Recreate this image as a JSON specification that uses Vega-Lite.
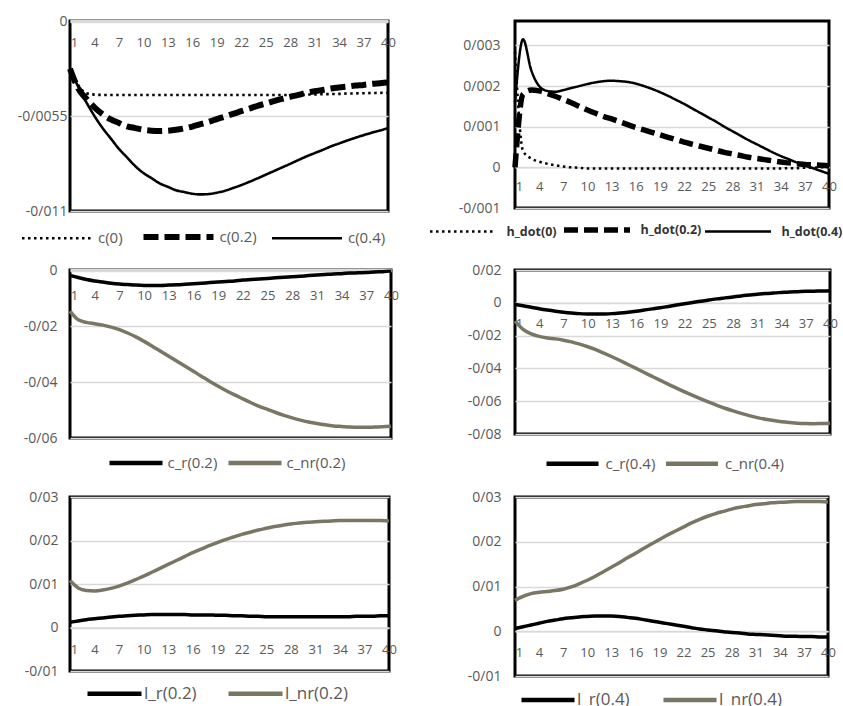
{
  "$schema": "https://vega.github.io/schema/vega-lite/v6.json",
  "padding": {"left": 15, "top": 12, "right": 0, "bottom": 0},
  "background": "white",
  "config": {
    "font": "Open Sans",
    "view": {"stroke": "black", "strokeWidth": 3},
    "axis": {"labelFont": "Open Sans", "labelFontSize": 13, "labelColor": "#595959", "ticks": false, "tickSize": 0, "gridColor": "#d9d9d9", "gridWidth": 1.5},
    "axisX": {"grid": false, "domain": true, "domainColor": "#d9d9d9", "domainWidth": 1.5, "labelBaseline": "middle", "labelFlush": false, "labelOverlap": false, "labelBound": false,
              "labelOffset": {"condition": {"test": "datum.value == 1", "value": 4}, "value": 0}},
    "axisY": {"grid": true, "domain": false, "labelBaseline": "middle", "labelFontSize": 14},
    "legend": {"orient": "none", "direction": "horizontal", "padding": 0, "labelFont": "Open Sans", "labelFontSize": 15, "labelColor": "#595959", "symbolType": "stroke", "rowPadding": 0},
    "line": {"interpolate": "monotone"}
  },
  "resolve": {"scale": {"color": "independent", "strokeDash": "independent", "strokeWidth": "independent"}, "legend": {"color": "independent", "strokeDash": "independent", "strokeWidth": "independent"}},
  "bounds": "flush",
  "columns": 2,
  "spacing": {"row": 59, "column": 124},
  "datasets": {
    "consumption": [
      {"s":"c(0)","t":1,"v":-0.00276},{"s":"c(0)","t":2,"v":-0.0037},{"s":"c(0)","t":3,"v":-0.00418},{"s":"c(0)","t":4,"v":-0.00426},{"s":"c(0)","t":5,"v":-0.00428},{"s":"c(0)","t":6,"v":-0.00428},{"s":"c(0)","t":7,"v":-0.00428},{"s":"c(0)","t":8,"v":-0.00428},{"s":"c(0)","t":9,"v":-0.00428},{"s":"c(0)","t":10,"v":-0.00428},
      {"s":"c(0)","t":11,"v":-0.00428},{"s":"c(0)","t":12,"v":-0.00428},{"s":"c(0)","t":13,"v":-0.00428},{"s":"c(0)","t":14,"v":-0.00428},{"s":"c(0)","t":15,"v":-0.00428},{"s":"c(0)","t":16,"v":-0.00428},{"s":"c(0)","t":17,"v":-0.00428},{"s":"c(0)","t":18,"v":-0.00428},{"s":"c(0)","t":19,"v":-0.00428},{"s":"c(0)","t":20,"v":-0.00428},
      {"s":"c(0)","t":21,"v":-0.00428},{"s":"c(0)","t":22,"v":-0.00428},{"s":"c(0)","t":23,"v":-0.00428},{"s":"c(0)","t":24,"v":-0.00428},{"s":"c(0)","t":25,"v":-0.00428},{"s":"c(0)","t":26,"v":-0.00428},{"s":"c(0)","t":27,"v":-0.00428},{"s":"c(0)","t":28,"v":-0.00428},{"s":"c(0)","t":29,"v":-0.00427},{"s":"c(0)","t":30,"v":-0.00426},
      {"s":"c(0)","t":31,"v":-0.00425},{"s":"c(0)","t":32,"v":-0.00424},{"s":"c(0)","t":33,"v":-0.00423},{"s":"c(0)","t":34,"v":-0.00422},{"s":"c(0)","t":35,"v":-0.0042},{"s":"c(0)","t":36,"v":-0.00419},{"s":"c(0)","t":37,"v":-0.00418},{"s":"c(0)","t":38,"v":-0.00417},{"s":"c(0)","t":39,"v":-0.00416},{"s":"c(0)","t":40,"v":-0.00415},
      {"s":"c(0.2)","t":1,"v":-0.00276},{"s":"c(0.2)","t":2,"v":-0.0039},{"s":"c(0.2)","t":3,"v":-0.0045},{"s":"c(0.2)","t":4,"v":-0.005},{"s":"c(0.2)","t":5,"v":-0.0054},{"s":"c(0.2)","t":6,"v":-0.0057},{"s":"c(0.2)","t":7,"v":-0.0059},{"s":"c(0.2)","t":8,"v":-0.0061},{"s":"c(0.2)","t":9,"v":-0.0062},{"s":"c(0.2)","t":10,"v":-0.0063},
      {"s":"c(0.2)","t":11,"v":-0.00635},{"s":"c(0.2)","t":12,"v":-0.00637},{"s":"c(0.2)","t":13,"v":-0.00635},{"s":"c(0.2)","t":14,"v":-0.0063},{"s":"c(0.2)","t":15,"v":-0.00622},{"s":"c(0.2)","t":16,"v":-0.00611},{"s":"c(0.2)","t":17,"v":-0.00597},{"s":"c(0.2)","t":18,"v":-0.00584},{"s":"c(0.2)","t":19,"v":-0.00568},{"s":"c(0.2)","t":20,"v":-0.00553},
      {"s":"c(0.2)","t":21,"v":-0.00538},{"s":"c(0.2)","t":22,"v":-0.00522},{"s":"c(0.2)","t":23,"v":-0.00507},{"s":"c(0.2)","t":24,"v":-0.00491},{"s":"c(0.2)","t":25,"v":-0.00478},{"s":"c(0.2)","t":26,"v":-0.00464},{"s":"c(0.2)","t":27,"v":-0.00451},{"s":"c(0.2)","t":28,"v":-0.00439},{"s":"c(0.2)","t":29,"v":-0.00428},{"s":"c(0.2)","t":30,"v":-0.00416},
      {"s":"c(0.2)","t":31,"v":-0.00407},{"s":"c(0.2)","t":32,"v":-0.00399},{"s":"c(0.2)","t":33,"v":-0.00391},{"s":"c(0.2)","t":34,"v":-0.00385},{"s":"c(0.2)","t":35,"v":-0.0038},{"s":"c(0.2)","t":36,"v":-0.00374},{"s":"c(0.2)","t":37,"v":-0.0037},{"s":"c(0.2)","t":38,"v":-0.00364},{"s":"c(0.2)","t":39,"v":-0.0036},{"s":"c(0.2)","t":40,"v":-0.00356},
      {"s":"c(0.4)","t":1,"v":-0.00276},{"s":"c(0.4)","t":2,"v":-0.0038},{"s":"c(0.4)","t":3,"v":-0.0047},{"s":"c(0.4)","t":4,"v":-0.0055},{"s":"c(0.4)","t":5,"v":-0.0062},{"s":"c(0.4)","t":6,"v":-0.0068},{"s":"c(0.4)","t":7,"v":-0.0074},{"s":"c(0.4)","t":8,"v":-0.0079},{"s":"c(0.4)","t":9,"v":-0.0084},{"s":"c(0.4)","t":10,"v":-0.0088},
      {"s":"c(0.4)","t":11,"v":-0.0091},{"s":"c(0.4)","t":12,"v":-0.0094},{"s":"c(0.4)","t":13,"v":-0.0096},{"s":"c(0.4)","t":14,"v":-0.0098},{"s":"c(0.4)","t":15,"v":-0.0099},{"s":"c(0.4)","t":16,"v":-0.01},{"s":"c(0.4)","t":17,"v":-0.01004},{"s":"c(0.4)","t":18,"v":-0.01002},{"s":"c(0.4)","t":19,"v":-0.00994},{"s":"c(0.4)","t":20,"v":-0.00983},
      {"s":"c(0.4)","t":21,"v":-0.00967},{"s":"c(0.4)","t":22,"v":-0.0095},{"s":"c(0.4)","t":23,"v":-0.00931},{"s":"c(0.4)","t":24,"v":-0.00911},{"s":"c(0.4)","t":25,"v":-0.0089},{"s":"c(0.4)","t":26,"v":-0.00869},{"s":"c(0.4)","t":27,"v":-0.00848},{"s":"c(0.4)","t":28,"v":-0.00827},{"s":"c(0.4)","t":29,"v":-0.00805},{"s":"c(0.4)","t":30,"v":-0.00784},
      {"s":"c(0.4)","t":31,"v":-0.00765},{"s":"c(0.4)","t":32,"v":-0.00746},{"s":"c(0.4)","t":33,"v":-0.00726},{"s":"c(0.4)","t":34,"v":-0.00709},{"s":"c(0.4)","t":35,"v":-0.00692},{"s":"c(0.4)","t":36,"v":-0.00676},{"s":"c(0.4)","t":37,"v":-0.00661},{"s":"c(0.4)","t":38,"v":-0.00647},{"s":"c(0.4)","t":39,"v":-0.00634},{"s":"c(0.4)","t":40,"v":-0.0062}
    ],
    "hours": [
      {"s":"h_dot(0)","t":1,"v":0.00285},{"s":"h_dot(0)","t":2,"v":0.0004},{"s":"h_dot(0)","t":3,"v":0.00022},{"s":"h_dot(0)","t":4,"v":0.00014},{"s":"h_dot(0)","t":5,"v":0.00009},{"s":"h_dot(0)","t":6,"v":0.00005},{"s":"h_dot(0)","t":7,"v":0.00002},{"s":"h_dot(0)","t":8,"v":0},{"s":"h_dot(0)","t":9,"v":-0.00001},{"s":"h_dot(0)","t":10,"v":-0.00003},
      {"s":"h_dot(0)","t":11,"v":-0.00003},{"s":"h_dot(0)","t":12,"v":-0.00003},{"s":"h_dot(0)","t":13,"v":-0.00003},{"s":"h_dot(0)","t":14,"v":-0.00003},{"s":"h_dot(0)","t":15,"v":-0.00003},{"s":"h_dot(0)","t":16,"v":-0.00003},{"s":"h_dot(0)","t":17,"v":-0.00003},{"s":"h_dot(0)","t":18,"v":-0.00003},{"s":"h_dot(0)","t":19,"v":-0.00003},{"s":"h_dot(0)","t":20,"v":-0.00003},
      {"s":"h_dot(0)","t":21,"v":-0.00003},{"s":"h_dot(0)","t":22,"v":-0.00003},{"s":"h_dot(0)","t":23,"v":-0.00003},{"s":"h_dot(0)","t":24,"v":-0.00003},{"s":"h_dot(0)","t":25,"v":-0.00003},{"s":"h_dot(0)","t":26,"v":-0.00003},{"s":"h_dot(0)","t":27,"v":-0.00003},{"s":"h_dot(0)","t":28,"v":-0.00003},{"s":"h_dot(0)","t":29,"v":-0.00003},{"s":"h_dot(0)","t":30,"v":-0.00003},
      {"s":"h_dot(0)","t":31,"v":-0.00003},{"s":"h_dot(0)","t":32,"v":-0.00003},{"s":"h_dot(0)","t":33,"v":-0.00003},{"s":"h_dot(0)","t":34,"v":-0.00003},{"s":"h_dot(0)","t":35,"v":-0.00002},{"s":"h_dot(0)","t":36,"v":-0.00002},{"s":"h_dot(0)","t":37,"v":-0.00001},{"s":"h_dot(0)","t":38,"v":-0.00001},{"s":"h_dot(0)","t":39,"v":0},{"s":"h_dot(0)","t":40,"v":0},
      {"s":"h_dot(0.2)","t":1,"v":0},{"s":"h_dot(0.2)","t":2,"v":0.0018},{"s":"h_dot(0.2)","t":3,"v":0.0019},{"s":"h_dot(0.2)","t":4,"v":0.00188},{"s":"h_dot(0.2)","t":5,"v":0.00182},{"s":"h_dot(0.2)","t":6,"v":0.00175},{"s":"h_dot(0.2)","t":7,"v":0.00167},{"s":"h_dot(0.2)","t":8,"v":0.00159},{"s":"h_dot(0.2)","t":9,"v":0.0015},{"s":"h_dot(0.2)","t":10,"v":0.00141},
      {"s":"h_dot(0.2)","t":11,"v":0.00133},{"s":"h_dot(0.2)","t":12,"v":0.00125},{"s":"h_dot(0.2)","t":13,"v":0.00119},{"s":"h_dot(0.2)","t":14,"v":0.00112},{"s":"h_dot(0.2)","t":15,"v":0.00105},{"s":"h_dot(0.2)","t":16,"v":0.00098},{"s":"h_dot(0.2)","t":17,"v":0.00092},{"s":"h_dot(0.2)","t":18,"v":0.00086},{"s":"h_dot(0.2)","t":19,"v":0.0008},{"s":"h_dot(0.2)","t":20,"v":0.00074},
      {"s":"h_dot(0.2)","t":21,"v":0.00068},{"s":"h_dot(0.2)","t":22,"v":0.00062},{"s":"h_dot(0.2)","t":23,"v":0.00057},{"s":"h_dot(0.2)","t":24,"v":0.00052},{"s":"h_dot(0.2)","t":25,"v":0.00047},{"s":"h_dot(0.2)","t":26,"v":0.00042},{"s":"h_dot(0.2)","t":27,"v":0.00037},{"s":"h_dot(0.2)","t":28,"v":0.00033},{"s":"h_dot(0.2)","t":29,"v":0.00029},{"s":"h_dot(0.2)","t":30,"v":0.00025},
      {"s":"h_dot(0.2)","t":31,"v":0.00022},{"s":"h_dot(0.2)","t":32,"v":0.00019},{"s":"h_dot(0.2)","t":33,"v":0.00016},{"s":"h_dot(0.2)","t":34,"v":0.00013},{"s":"h_dot(0.2)","t":35,"v":0.00011},{"s":"h_dot(0.2)","t":36,"v":0.00009},{"s":"h_dot(0.2)","t":37,"v":0.00007},{"s":"h_dot(0.2)","t":38,"v":0.00006},{"s":"h_dot(0.2)","t":39,"v":0.00005},{"s":"h_dot(0.2)","t":40,"v":0.00004},
      {"s":"h_dot(0.4)","t":1,"v":0.0016},{"s":"h_dot(0.4)","t":2,"v":0.00315},{"s":"h_dot(0.4)","t":3,"v":0.0024},{"s":"h_dot(0.4)","t":4,"v":0.002},{"s":"h_dot(0.4)","t":5,"v":0.00188},{"s":"h_dot(0.4)","t":6,"v":0.00186},{"s":"h_dot(0.4)","t":7,"v":0.0019},{"s":"h_dot(0.4)","t":8,"v":0.00195},{"s":"h_dot(0.4)","t":9,"v":0.002},{"s":"h_dot(0.4)","t":10,"v":0.00205},
      {"s":"h_dot(0.4)","t":11,"v":0.00209},{"s":"h_dot(0.4)","t":12,"v":0.00212},{"s":"h_dot(0.4)","t":13,"v":0.00213},{"s":"h_dot(0.4)","t":14,"v":0.00212},{"s":"h_dot(0.4)","t":15,"v":0.0021},{"s":"h_dot(0.4)","t":16,"v":0.00206},{"s":"h_dot(0.4)","t":17,"v":0.002},{"s":"h_dot(0.4)","t":18,"v":0.00193},{"s":"h_dot(0.4)","t":19,"v":0.00185},{"s":"h_dot(0.4)","t":20,"v":0.00176},
      {"s":"h_dot(0.4)","t":21,"v":0.00166},{"s":"h_dot(0.4)","t":22,"v":0.00156},{"s":"h_dot(0.4)","t":23,"v":0.00145},{"s":"h_dot(0.4)","t":24,"v":0.00134},{"s":"h_dot(0.4)","t":25,"v":0.00123},{"s":"h_dot(0.4)","t":26,"v":0.00112},{"s":"h_dot(0.4)","t":27,"v":0.001},{"s":"h_dot(0.4)","t":28,"v":0.00089},{"s":"h_dot(0.4)","t":29,"v":0.00078},{"s":"h_dot(0.4)","t":30,"v":0.00067},
      {"s":"h_dot(0.4)","t":31,"v":0.00057},{"s":"h_dot(0.4)","t":32,"v":0.00047},{"s":"h_dot(0.4)","t":33,"v":0.00037},{"s":"h_dot(0.4)","t":34,"v":0.00028},{"s":"h_dot(0.4)","t":35,"v":0.0002},{"s":"h_dot(0.4)","t":36,"v":0.00012},{"s":"h_dot(0.4)","t":37,"v":0.00005},{"s":"h_dot(0.4)","t":38,"v":-0.00002},{"s":"h_dot(0.4)","t":39,"v":-0.00009},{"s":"h_dot(0.4)","t":40,"v":-0.00016}
    ],
    "c02": [
      {"s":"c_r(0.2)","t":1,"v":-0.0019},{"s":"c_r(0.2)","t":2,"v":-0.0027},{"s":"c_r(0.2)","t":3,"v":-0.0034},{"s":"c_r(0.2)","t":4,"v":-0.0039},{"s":"c_r(0.2)","t":5,"v":-0.0043},{"s":"c_r(0.2)","t":6,"v":-0.0047},{"s":"c_r(0.2)","t":7,"v":-0.005},{"s":"c_r(0.2)","t":8,"v":-0.0052},{"s":"c_r(0.2)","t":9,"v":-0.0054},{"s":"c_r(0.2)","t":10,"v":-0.0055},
      {"s":"c_r(0.2)","t":11,"v":-0.0055},{"s":"c_r(0.2)","t":12,"v":-0.0055},{"s":"c_r(0.2)","t":13,"v":-0.0054},{"s":"c_r(0.2)","t":14,"v":-0.0053},{"s":"c_r(0.2)","t":15,"v":-0.0051},{"s":"c_r(0.2)","t":16,"v":-0.0049},{"s":"c_r(0.2)","t":17,"v":-0.0047},{"s":"c_r(0.2)","t":18,"v":-0.0045},{"s":"c_r(0.2)","t":19,"v":-0.0043},{"s":"c_r(0.2)","t":20,"v":-0.0041},
      {"s":"c_r(0.2)","t":21,"v":-0.0039},{"s":"c_r(0.2)","t":22,"v":-0.0036},{"s":"c_r(0.2)","t":23,"v":-0.0034},{"s":"c_r(0.2)","t":24,"v":-0.0032},{"s":"c_r(0.2)","t":25,"v":-0.003},{"s":"c_r(0.2)","t":26,"v":-0.0028},{"s":"c_r(0.2)","t":27,"v":-0.0026},{"s":"c_r(0.2)","t":28,"v":-0.0024},{"s":"c_r(0.2)","t":29,"v":-0.0022},{"s":"c_r(0.2)","t":30,"v":-0.002},
      {"s":"c_r(0.2)","t":31,"v":-0.0018},{"s":"c_r(0.2)","t":32,"v":-0.0016},{"s":"c_r(0.2)","t":33,"v":-0.0014},{"s":"c_r(0.2)","t":34,"v":-0.0013},{"s":"c_r(0.2)","t":35,"v":-0.0011},{"s":"c_r(0.2)","t":36,"v":-0.001},{"s":"c_r(0.2)","t":37,"v":-0.0009},{"s":"c_r(0.2)","t":38,"v":-0.0007},{"s":"c_r(0.2)","t":39,"v":-0.0006},{"s":"c_r(0.2)","t":40,"v":-0.0004},
      {"s":"c_nr(0.2)","t":1,"v":-0.0147},{"s":"c_nr(0.2)","t":2,"v":-0.0178},{"s":"c_nr(0.2)","t":3,"v":-0.0187},{"s":"c_nr(0.2)","t":4,"v":-0.0192},{"s":"c_nr(0.2)","t":5,"v":-0.0197},{"s":"c_nr(0.2)","t":6,"v":-0.0204},{"s":"c_nr(0.2)","t":7,"v":-0.0213},{"s":"c_nr(0.2)","t":8,"v":-0.0225},{"s":"c_nr(0.2)","t":9,"v":-0.0239},{"s":"c_nr(0.2)","t":10,"v":-0.0255},
      {"s":"c_nr(0.2)","t":11,"v":-0.0272},{"s":"c_nr(0.2)","t":12,"v":-0.029},{"s":"c_nr(0.2)","t":13,"v":-0.0308},{"s":"c_nr(0.2)","t":14,"v":-0.0326},{"s":"c_nr(0.2)","t":15,"v":-0.0344},{"s":"c_nr(0.2)","t":16,"v":-0.0362},{"s":"c_nr(0.2)","t":17,"v":-0.038},{"s":"c_nr(0.2)","t":18,"v":-0.0398},{"s":"c_nr(0.2)","t":19,"v":-0.0415},{"s":"c_nr(0.2)","t":20,"v":-0.0431},
      {"s":"c_nr(0.2)","t":21,"v":-0.0446},{"s":"c_nr(0.2)","t":22,"v":-0.046},{"s":"c_nr(0.2)","t":23,"v":-0.0474},{"s":"c_nr(0.2)","t":24,"v":-0.0487},{"s":"c_nr(0.2)","t":25,"v":-0.0498},{"s":"c_nr(0.2)","t":26,"v":-0.0509},{"s":"c_nr(0.2)","t":27,"v":-0.0519},{"s":"c_nr(0.2)","t":28,"v":-0.0528},{"s":"c_nr(0.2)","t":29,"v":-0.0536},{"s":"c_nr(0.2)","t":30,"v":-0.0543},
      {"s":"c_nr(0.2)","t":31,"v":-0.0548},{"s":"c_nr(0.2)","t":32,"v":-0.0553},{"s":"c_nr(0.2)","t":33,"v":-0.0557},{"s":"c_nr(0.2)","t":34,"v":-0.0559},{"s":"c_nr(0.2)","t":35,"v":-0.0561},{"s":"c_nr(0.2)","t":36,"v":-0.0562},{"s":"c_nr(0.2)","t":37,"v":-0.0562},{"s":"c_nr(0.2)","t":38,"v":-0.0561},{"s":"c_nr(0.2)","t":39,"v":-0.056},{"s":"c_nr(0.2)","t":40,"v":-0.0558}
    ],
    "c04": [
      {"s":"c_r(0.4)","t":1,"v":-0.001},{"s":"c_r(0.4)","t":2,"v":-0.0018},{"s":"c_r(0.4)","t":3,"v":-0.0027},{"s":"c_r(0.4)","t":4,"v":-0.0036},{"s":"c_r(0.4)","t":5,"v":-0.0044},{"s":"c_r(0.4)","t":6,"v":-0.0051},{"s":"c_r(0.4)","t":7,"v":-0.0057},{"s":"c_r(0.4)","t":8,"v":-0.0062},{"s":"c_r(0.4)","t":9,"v":-0.0066},{"s":"c_r(0.4)","t":10,"v":-0.0068},
      {"s":"c_r(0.4)","t":11,"v":-0.0069},{"s":"c_r(0.4)","t":12,"v":-0.0068},{"s":"c_r(0.4)","t":13,"v":-0.0066},{"s":"c_r(0.4)","t":14,"v":-0.0062},{"s":"c_r(0.4)","t":15,"v":-0.0057},{"s":"c_r(0.4)","t":16,"v":-0.0051},{"s":"c_r(0.4)","t":17,"v":-0.0044},{"s":"c_r(0.4)","t":18,"v":-0.0037},{"s":"c_r(0.4)","t":19,"v":-0.003},{"s":"c_r(0.4)","t":20,"v":-0.0022},
      {"s":"c_r(0.4)","t":21,"v":-0.0014},{"s":"c_r(0.4)","t":22,"v":-0.0006},{"s":"c_r(0.4)","t":23,"v":0.0002},{"s":"c_r(0.4)","t":24,"v":0.001},{"s":"c_r(0.4)","t":25,"v":0.0017},{"s":"c_r(0.4)","t":26,"v":0.0024},{"s":"c_r(0.4)","t":27,"v":0.003},{"s":"c_r(0.4)","t":28,"v":0.0036},{"s":"c_r(0.4)","t":29,"v":0.0042},{"s":"c_r(0.4)","t":30,"v":0.0047},
      {"s":"c_r(0.4)","t":31,"v":0.0052},{"s":"c_r(0.4)","t":32,"v":0.0056},{"s":"c_r(0.4)","t":33,"v":0.006},{"s":"c_r(0.4)","t":34,"v":0.0063},{"s":"c_r(0.4)","t":35,"v":0.0066},{"s":"c_r(0.4)","t":36,"v":0.0068},{"s":"c_r(0.4)","t":37,"v":0.007},{"s":"c_r(0.4)","t":38,"v":0.0071},{"s":"c_r(0.4)","t":39,"v":0.0072},{"s":"c_r(0.4)","t":40,"v":0.0073},
      {"s":"c_nr(0.4)","t":1,"v":-0.0112},{"s":"c_nr(0.4)","t":2,"v":-0.0162},{"s":"c_nr(0.4)","t":3,"v":-0.019},{"s":"c_nr(0.4)","t":4,"v":-0.0205},{"s":"c_nr(0.4)","t":5,"v":-0.0214},{"s":"c_nr(0.4)","t":6,"v":-0.022},{"s":"c_nr(0.4)","t":7,"v":-0.0228},{"s":"c_nr(0.4)","t":8,"v":-0.0238},{"s":"c_nr(0.4)","t":9,"v":-0.0252},{"s":"c_nr(0.4)","t":10,"v":-0.0268},
      {"s":"c_nr(0.4)","t":11,"v":-0.0286},{"s":"c_nr(0.4)","t":12,"v":-0.0307},{"s":"c_nr(0.4)","t":13,"v":-0.0329},{"s":"c_nr(0.4)","t":14,"v":-0.0352},{"s":"c_nr(0.4)","t":15,"v":-0.0376},{"s":"c_nr(0.4)","t":16,"v":-0.04},{"s":"c_nr(0.4)","t":17,"v":-0.0425},{"s":"c_nr(0.4)","t":18,"v":-0.0449},{"s":"c_nr(0.4)","t":19,"v":-0.0473},{"s":"c_nr(0.4)","t":20,"v":-0.0497},
      {"s":"c_nr(0.4)","t":21,"v":-0.052},{"s":"c_nr(0.4)","t":22,"v":-0.0543},{"s":"c_nr(0.4)","t":23,"v":-0.0565},{"s":"c_nr(0.4)","t":24,"v":-0.0586},{"s":"c_nr(0.4)","t":25,"v":-0.0606},{"s":"c_nr(0.4)","t":26,"v":-0.0625},{"s":"c_nr(0.4)","t":27,"v":-0.0643},{"s":"c_nr(0.4)","t":28,"v":-0.0659},{"s":"c_nr(0.4)","t":29,"v":-0.0674},{"s":"c_nr(0.4)","t":30,"v":-0.0688},
      {"s":"c_nr(0.4)","t":31,"v":-0.07},{"s":"c_nr(0.4)","t":32,"v":-0.071},{"s":"c_nr(0.4)","t":33,"v":-0.0718},{"s":"c_nr(0.4)","t":34,"v":-0.0725},{"s":"c_nr(0.4)","t":35,"v":-0.073},{"s":"c_nr(0.4)","t":36,"v":-0.0734},{"s":"c_nr(0.4)","t":37,"v":-0.0736},{"s":"c_nr(0.4)","t":38,"v":-0.0737},{"s":"c_nr(0.4)","t":39,"v":-0.0736},{"s":"c_nr(0.4)","t":40,"v":-0.0735}
    ],
    "l02": [
      {"s":"l_r(0.2)","t":1,"v":0.0012},{"s":"l_r(0.2)","t":2,"v":0.0015},{"s":"l_r(0.2)","t":3,"v":0.0018},{"s":"l_r(0.2)","t":4,"v":0.002},{"s":"l_r(0.2)","t":5,"v":0.0022},{"s":"l_r(0.2)","t":6,"v":0.0024},{"s":"l_r(0.2)","t":7,"v":0.0026},{"s":"l_r(0.2)","t":8,"v":0.0027},{"s":"l_r(0.2)","t":9,"v":0.0028},{"s":"l_r(0.2)","t":10,"v":0.0029},
      {"s":"l_r(0.2)","t":11,"v":0.003},{"s":"l_r(0.2)","t":12,"v":0.003},{"s":"l_r(0.2)","t":13,"v":0.003},{"s":"l_r(0.2)","t":14,"v":0.003},{"s":"l_r(0.2)","t":15,"v":0.003},{"s":"l_r(0.2)","t":16,"v":0.0029},{"s":"l_r(0.2)","t":17,"v":0.0029},{"s":"l_r(0.2)","t":18,"v":0.0029},{"s":"l_r(0.2)","t":19,"v":0.0028},{"s":"l_r(0.2)","t":20,"v":0.0028},
      {"s":"l_r(0.2)","t":21,"v":0.0027},{"s":"l_r(0.2)","t":22,"v":0.0027},{"s":"l_r(0.2)","t":23,"v":0.0026},{"s":"l_r(0.2)","t":24,"v":0.0026},{"s":"l_r(0.2)","t":25,"v":0.0025},{"s":"l_r(0.2)","t":26,"v":0.0025},{"s":"l_r(0.2)","t":27,"v":0.0025},{"s":"l_r(0.2)","t":28,"v":0.0025},{"s":"l_r(0.2)","t":29,"v":0.0025},{"s":"l_r(0.2)","t":30,"v":0.0025},
      {"s":"l_r(0.2)","t":31,"v":0.0025},{"s":"l_r(0.2)","t":32,"v":0.0025},{"s":"l_r(0.2)","t":33,"v":0.0025},{"s":"l_r(0.2)","t":34,"v":0.0025},{"s":"l_r(0.2)","t":35,"v":0.0025},{"s":"l_r(0.2)","t":36,"v":0.0026},{"s":"l_r(0.2)","t":37,"v":0.0026},{"s":"l_r(0.2)","t":38,"v":0.0026},{"s":"l_r(0.2)","t":39,"v":0.0027},{"s":"l_r(0.2)","t":40,"v":0.0027},
      {"s":"l_nr(0.2)","t":1,"v":0.0108},{"s":"l_nr(0.2)","t":2,"v":0.0091},{"s":"l_nr(0.2)","t":3,"v":0.0085},{"s":"l_nr(0.2)","t":4,"v":0.0084},{"s":"l_nr(0.2)","t":5,"v":0.0086},{"s":"l_nr(0.2)","t":6,"v":0.009},{"s":"l_nr(0.2)","t":7,"v":0.0095},{"s":"l_nr(0.2)","t":8,"v":0.0102},{"s":"l_nr(0.2)","t":9,"v":0.011},{"s":"l_nr(0.2)","t":10,"v":0.0118},
      {"s":"l_nr(0.2)","t":11,"v":0.0127},{"s":"l_nr(0.2)","t":12,"v":0.0136},{"s":"l_nr(0.2)","t":13,"v":0.0145},{"s":"l_nr(0.2)","t":14,"v":0.0154},{"s":"l_nr(0.2)","t":15,"v":0.0163},{"s":"l_nr(0.2)","t":16,"v":0.0172},{"s":"l_nr(0.2)","t":17,"v":0.018},{"s":"l_nr(0.2)","t":18,"v":0.0188},{"s":"l_nr(0.2)","t":19,"v":0.0195},{"s":"l_nr(0.2)","t":20,"v":0.0202},
      {"s":"l_nr(0.2)","t":21,"v":0.0208},{"s":"l_nr(0.2)","t":22,"v":0.0214},{"s":"l_nr(0.2)","t":23,"v":0.0219},{"s":"l_nr(0.2)","t":24,"v":0.0224},{"s":"l_nr(0.2)","t":25,"v":0.0228},{"s":"l_nr(0.2)","t":26,"v":0.0232},{"s":"l_nr(0.2)","t":27,"v":0.0235},{"s":"l_nr(0.2)","t":28,"v":0.0238},{"s":"l_nr(0.2)","t":29,"v":0.024},{"s":"l_nr(0.2)","t":30,"v":0.0242},
      {"s":"l_nr(0.2)","t":31,"v":0.0243},{"s":"l_nr(0.2)","t":32,"v":0.0244},{"s":"l_nr(0.2)","t":33,"v":0.0245},{"s":"l_nr(0.2)","t":34,"v":0.0246},{"s":"l_nr(0.2)","t":35,"v":0.0246},{"s":"l_nr(0.2)","t":36,"v":0.0246},{"s":"l_nr(0.2)","t":37,"v":0.0246},{"s":"l_nr(0.2)","t":38,"v":0.0246},{"s":"l_nr(0.2)","t":39,"v":0.0246},{"s":"l_nr(0.2)","t":40,"v":0.0245}
    ],
    "l04": [
      {"s":"l_r(0.4)","t":1,"v":0.0006},{"s":"l_r(0.4)","t":2,"v":0.001},{"s":"l_r(0.4)","t":3,"v":0.0014},{"s":"l_r(0.4)","t":4,"v":0.0018},{"s":"l_r(0.4)","t":5,"v":0.0022},{"s":"l_r(0.4)","t":6,"v":0.0025},{"s":"l_r(0.4)","t":7,"v":0.0028},{"s":"l_r(0.4)","t":8,"v":0.003},{"s":"l_r(0.4)","t":9,"v":0.0032},{"s":"l_r(0.4)","t":10,"v":0.0033},
      {"s":"l_r(0.4)","t":11,"v":0.0034},{"s":"l_r(0.4)","t":12,"v":0.0034},{"s":"l_r(0.4)","t":13,"v":0.0034},{"s":"l_r(0.4)","t":14,"v":0.0033},{"s":"l_r(0.4)","t":15,"v":0.0031},{"s":"l_r(0.4)","t":16,"v":0.0029},{"s":"l_r(0.4)","t":17,"v":0.0026},{"s":"l_r(0.4)","t":18,"v":0.0023},{"s":"l_r(0.4)","t":19,"v":0.002},{"s":"l_r(0.4)","t":20,"v":0.0017},
      {"s":"l_r(0.4)","t":21,"v":0.0014},{"s":"l_r(0.4)","t":22,"v":0.0011},{"s":"l_r(0.4)","t":23,"v":0.0008},{"s":"l_r(0.4)","t":24,"v":0.0005},{"s":"l_r(0.4)","t":25,"v":0.0003},{"s":"l_r(0.4)","t":26,"v":0.0001},{"s":"l_r(0.4)","t":27,"v":-0.0001},{"s":"l_r(0.4)","t":28,"v":-0.0003},{"s":"l_r(0.4)","t":29,"v":-0.0004},{"s":"l_r(0.4)","t":30,"v":-0.0006},
      {"s":"l_r(0.4)","t":31,"v":-0.0007},{"s":"l_r(0.4)","t":32,"v":-0.0008},{"s":"l_r(0.4)","t":33,"v":-0.0009},{"s":"l_r(0.4)","t":34,"v":-0.001},{"s":"l_r(0.4)","t":35,"v":-0.0011},{"s":"l_r(0.4)","t":36,"v":-0.0011},{"s":"l_r(0.4)","t":37,"v":-0.0012},{"s":"l_r(0.4)","t":38,"v":-0.0012},{"s":"l_r(0.4)","t":39,"v":-0.0013},{"s":"l_r(0.4)","t":40,"v":-0.0013},
      {"s":"l_nr(0.4)","t":1,"v":0.0069},{"s":"l_nr(0.4)","t":2,"v":0.0078},{"s":"l_nr(0.4)","t":3,"v":0.0084},{"s":"l_nr(0.4)","t":4,"v":0.0087},{"s":"l_nr(0.4)","t":5,"v":0.0089},{"s":"l_nr(0.4)","t":6,"v":0.0091},{"s":"l_nr(0.4)","t":7,"v":0.0094},{"s":"l_nr(0.4)","t":8,"v":0.0099},{"s":"l_nr(0.4)","t":9,"v":0.0106},{"s":"l_nr(0.4)","t":10,"v":0.0114},
      {"s":"l_nr(0.4)","t":11,"v":0.0123},{"s":"l_nr(0.4)","t":12,"v":0.0133},{"s":"l_nr(0.4)","t":13,"v":0.0143},{"s":"l_nr(0.4)","t":14,"v":0.0153},{"s":"l_nr(0.4)","t":15,"v":0.0164},{"s":"l_nr(0.4)","t":16,"v":0.0174},{"s":"l_nr(0.4)","t":17,"v":0.0185},{"s":"l_nr(0.4)","t":18,"v":0.0195},{"s":"l_nr(0.4)","t":19,"v":0.0205},{"s":"l_nr(0.4)","t":20,"v":0.0215},
      {"s":"l_nr(0.4)","t":21,"v":0.0224},{"s":"l_nr(0.4)","t":22,"v":0.0233},{"s":"l_nr(0.4)","t":23,"v":0.0242},{"s":"l_nr(0.4)","t":24,"v":0.025},{"s":"l_nr(0.4)","t":25,"v":0.0257},{"s":"l_nr(0.4)","t":26,"v":0.0263},{"s":"l_nr(0.4)","t":27,"v":0.0268},{"s":"l_nr(0.4)","t":28,"v":0.0273},{"s":"l_nr(0.4)","t":29,"v":0.0277},{"s":"l_nr(0.4)","t":30,"v":0.028},
      {"s":"l_nr(0.4)","t":31,"v":0.0283},{"s":"l_nr(0.4)","t":32,"v":0.0285},{"s":"l_nr(0.4)","t":33,"v":0.0287},{"s":"l_nr(0.4)","t":34,"v":0.0288},{"s":"l_nr(0.4)","t":35,"v":0.0289},{"s":"l_nr(0.4)","t":36,"v":0.029},{"s":"l_nr(0.4)","t":37,"v":0.029},{"s":"l_nr(0.4)","t":38,"v":0.029},{"s":"l_nr(0.4)","t":39,"v":0.029},{"s":"l_nr(0.4)","t":40,"v":0.0289}
    ]
  },
  "concat": [
    {
      "width": 318, "height": 190,
      "data": {"name": "consumption"},
      "mark": {"type": "line", "color": "black"},
      "encoding": {
        "x": {"field": "t", "type": "quantitative", "scale": {"domain": [1, 40], "nice": false, "zero": false},
              "axis": {"title": null, "values": [1,4,7,10,13,16,19,22,25,28,31,34,37,40], "offset": -190, "labelPadding": 21, "domainWidth": 3.5}},
        "y": {"field": "v", "type": "quantitative", "scale": {"domain": [-0.011, 0], "nice": false},
              "axis": {"title": null, "values": [-0.011, -0.0055, 0], "labelPadding": 3, "labelExpr": "replace(toString(datum.value), '.', '/')"}},
        "strokeDash": {"field": "s", "type": "nominal",
              "scale": {"domain": ["c(0)", "c(0.2)", "c(0.4)"], "range": [[2.5, 3.5], [15, 6], [1, 0]]},
              "legend": {"title": null, "legendX": -51, "legendY": 178, "columns": 3, "symbolSize": 4900, "labelOffset": 3, "columnPadding": 8.5}},
        "strokeWidth": {"field": "s", "type": "nominal",
              "scale": {"type": "ordinal", "domain": ["c(0)", "c(0.2)", "c(0.4)"], "range": [2.6, 6, 2.6]},
              "legend": {"title": null, "legendX": -51, "legendY": 178, "columns": 3, "symbolSize": 4900, "labelOffset": 3, "columnPadding": 8.5}}
      }
    },
    {
      "width": 314, "height": 187,
      "data": {"name": "hours"},
      "mark": {"type": "line", "color": "black"},
      "encoding": {
        "x": {"field": "t", "type": "quantitative", "scale": {"domain": [1, 40], "nice": false, "zero": false},
              "axis": {"title": null, "values": [1,4,7,10,13,16,19,22,25,28,31,34,37,40], "offset": -40.65, "labelPadding": 19}},
        "y": {"field": "v", "type": "quantitative", "scale": {"domain": [-0.001, 0.0036], "nice": false},
              "axis": {"title": null, "values": [-0.001, 0, 0.001, 0.002, 0.003], "labelPadding": 15, "labelExpr": "replace(toString(datum.value), '.', '/')"}},
        "strokeDash": {"field": "s", "type": "nominal",
              "scale": {"domain": ["h_dot(0)", "h_dot(0.2)", "h_dot(0.4)"], "range": [[2.5, 3.5], [14, 6], [1, 0]]},
              "legend": {"title": null, "legendX": -88, "legendY": 173, "columns": 3, "symbolSize": 4356, "labelOffset": 7.5, "columnPadding": -4, "labelFontSize": 12.5, "labelFontWeight": "bold", "labelColor": "#333333"}},
        "strokeWidth": {"field": "s", "type": "nominal",
              "scale": {"type": "ordinal", "domain": ["h_dot(0)", "h_dot(0.2)", "h_dot(0.4)"], "range": [2.5, 5.5, 2.5]},
              "legend": {"title": null, "legendX": -88, "legendY": 173, "columns": 3, "symbolSize": 4356, "labelOffset": 7.5, "columnPadding": -4, "labelFontSize": 12.5, "labelFontWeight": "bold", "labelColor": "#333333"}}
      }
    },
    {
      "width": 321, "height": 168,
      "data": {"name": "c02"},
      "mark": {"type": "line", "strokeWidth": 3.5},
      "encoding": {
        "x": {"field": "t", "type": "quantitative", "scale": {"domain": [1, 40], "nice": false, "zero": false},
              "axis": {"title": null, "values": [1,4,7,10,13,16,19,22,25,28,31,34,37,40], "offset": -168, "labelPadding": 25, "domainWidth": 3.5}},
        "y": {"field": "v", "type": "quantitative", "scale": {"domain": [-0.06, 0], "nice": false},
              "axis": {"title": null, "values": [-0.06, -0.04, -0.02, 0], "labelPadding": 13, "labelExpr": "replace(toString(datum.value), '.', '/')"}},
        "color": {"field": "s", "type": "nominal",
              "scale": {"domain": ["c_r(0.2)", "c_nr(0.2)"], "range": ["black", "#7a7664"]},
              "legend": {"title": null, "legendX": 37, "legendY": 164, "columns": 2, "symbolSize": 2809, "symbolStrokeWidth": 4.5, "labelOffset": 2.5, "columnPadding": 1}}
      }
    },
    {
      "width": 315, "height": 164,
      "data": {"name": "c04"},
      "mark": {"type": "line", "strokeWidth": 3.5},
      "encoding": {
        "x": {"field": "t", "type": "quantitative", "scale": {"domain": [1, 40], "nice": false, "zero": false},
              "axis": {"title": null, "values": [1,4,7,10,13,16,19,22,25,28,31,34,37,40], "offset": -131.2, "labelPadding": 21}},
        "y": {"field": "v", "type": "quantitative", "scale": {"domain": [-0.08, 0.02], "nice": false},
              "axis": {"title": null, "values": [-0.08, -0.06, -0.04, -0.02, 0, 0.02], "labelPadding": 14, "labelExpr": "replace(toString(datum.value), '.', '/')"}},
        "color": {"field": "s", "type": "nominal",
              "scale": {"domain": ["c_r(0.4)", "c_nr(0.4)"], "range": ["black", "#7a7664"]},
              "legend": {"title": null, "legendX": 29, "legendY": 165, "columns": 2, "symbolSize": 2704, "symbolStrokeWidth": 4.5, "labelOffset": 4.5, "columnPadding": 0.5}}
      }
    },
    {
      "width": 319, "height": 174,
      "data": {"name": "l02"},
      "mark": {"type": "line", "strokeWidth": 3.5},
      "encoding": {
        "x": {"field": "t", "type": "quantitative", "scale": {"domain": [1, 40], "nice": false, "zero": false},
              "axis": {"title": null, "values": [1,4,7,10,13,16,19,22,25,28,31,34,37,40], "offset": -43.5, "labelPadding": 22}},
        "y": {"field": "v", "type": "quantitative", "scale": {"domain": [-0.01, 0.03], "nice": false},
              "axis": {"title": null, "values": [-0.01, 0, 0.01, 0.02, 0.03], "labelPadding": 12, "labelExpr": "replace(toString(datum.value), '.', '/')"}},
        "color": {"field": "s", "type": "nominal",
              "scale": {"domain": ["l_r(0.2)", "l_nr(0.2)"], "range": ["black", "#7a7664"]},
              "legend": {"title": null, "legendX": 15, "legendY": 167, "columns": 2, "symbolSize": 2916, "symbolStrokeWidth": 4.5, "labelOffset": 0, "columnPadding": 22, "labelFontSize": 17}}
      }
    },
    {
      "width": 313, "height": 179,
      "data": {"name": "l04"},
      "mark": {"type": "line", "strokeWidth": 3.5},
      "encoding": {
        "x": {"field": "t", "type": "quantitative", "scale": {"domain": [1, 40], "nice": false, "zero": false},
              "axis": {"title": null, "values": [1,4,7,10,13,16,19,22,25,28,31,34,37,40], "offset": -44.75, "labelPadding": 21}},
        "y": {"field": "v", "type": "quantitative", "scale": {"domain": [-0.01, 0.03], "nice": false},
              "axis": {"title": null, "values": [-0.01, 0, 0.01, 0.02, 0.03], "labelPadding": 14, "labelExpr": "replace(toString(datum.value), '.', '/')"}},
        "color": {"field": "s", "type": "nominal",
              "scale": {"domain": ["l_r(0.4)", "l_nr(0.4)"], "range": ["black", "#7a7664"]},
              "legend": {"title": null, "legendX": 4, "legendY": 174, "columns": 2, "symbolSize": 2809, "symbolStrokeWidth": 4.5, "labelOffset": 0, "columnPadding": 24, "labelFontSize": 17}}
      }
    }
  ]
}
